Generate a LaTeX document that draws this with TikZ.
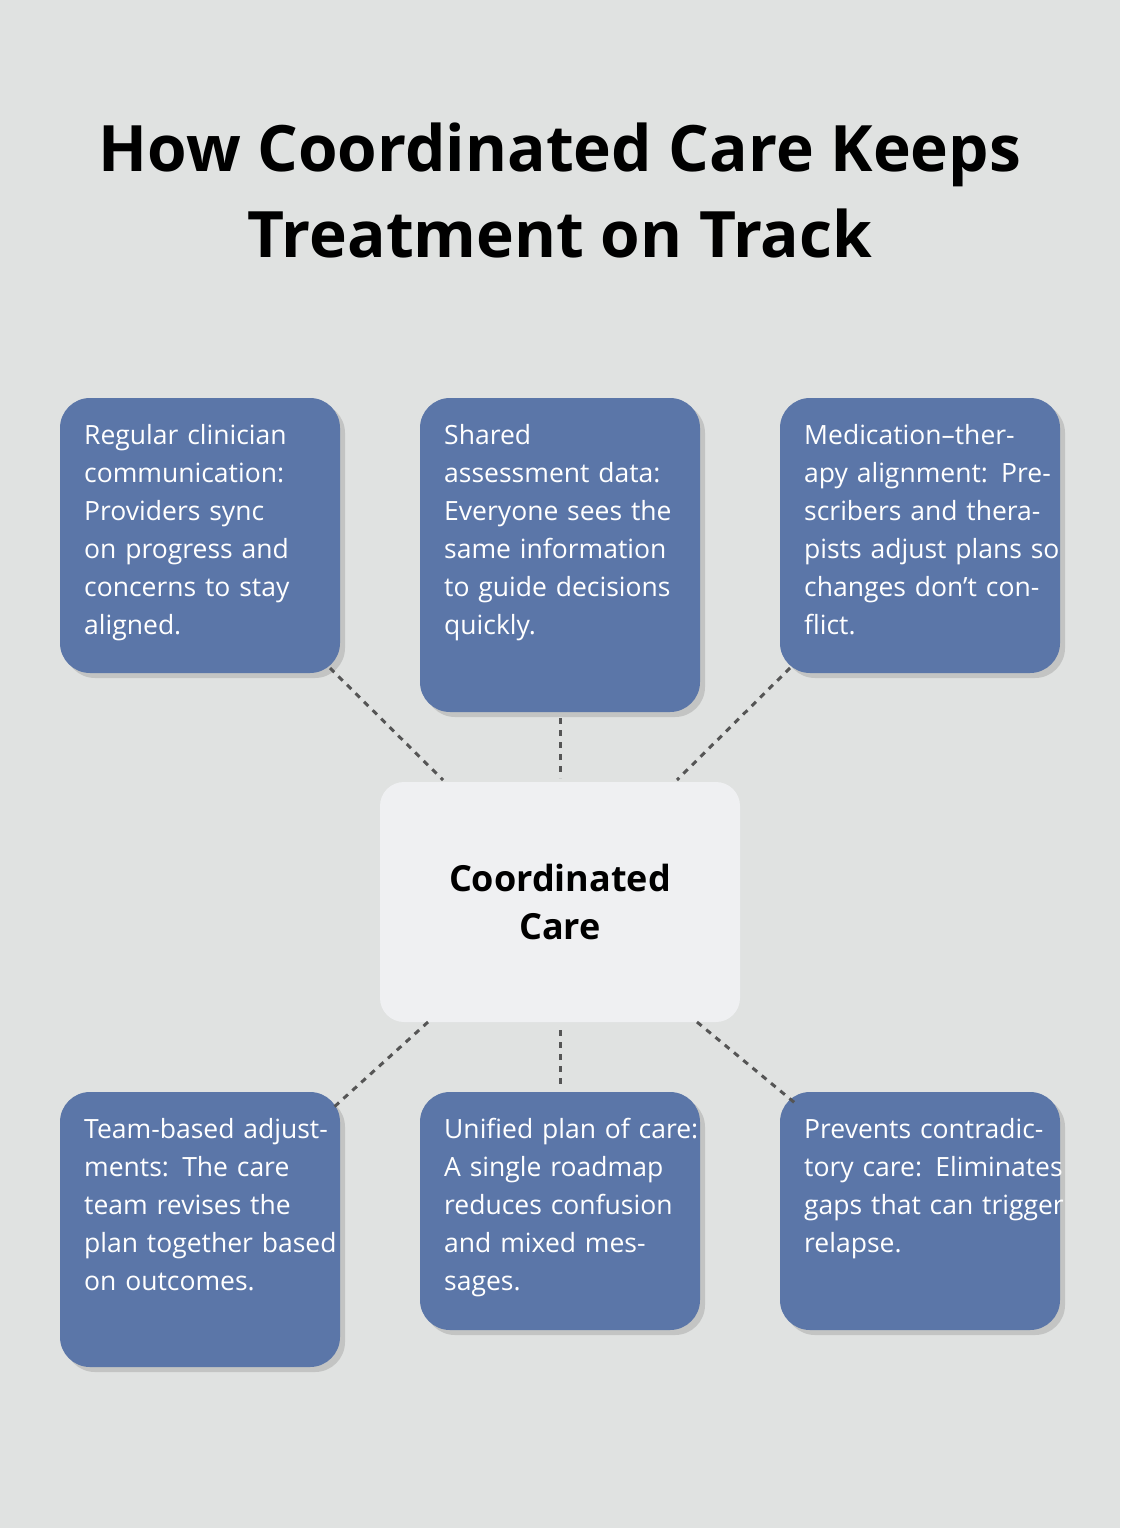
\documentclass[tikz,border=0pt]{standalone}
\usepackage{fontspec}
\setmainfont{Open Sans}
\usetikzlibrary{shadows}
\definecolor{bg}{HTML}{E0E2E1}
\definecolor{boxc}{HTML}{5B76A8}
\definecolor{cbox}{HTML}{EFF0F2}
\definecolor{dash}{HTML}{555555}
\begin{document}
\begin{tikzpicture}[x=1pt,y=-1pt,
 box/.style={fill=boxc,rounded corners=30pt,drop shadow={opacity=0.3,shadow xshift=5pt,shadow yshift=-5pt}},
 txt/.style={anchor=north west,text width=260pt,align=left,inner sep=0pt,text=white,font=\fontsize{26.5}{38}\selectfont},
 con/.style={draw=dash,line width=3pt,dash pattern=on 6pt off 6pt}]
\fill[bg] (0,0) rectangle (1120,1528);
\useasboundingbox (0,0) rectangle (1120,1528);
\node[font=\bfseries\fontsize{64}{86}\selectfont,align=center] (title) at (560,190) {How Coordinated Care Keeps\\Treatment on Track};
% boxes
\path[box] (60,398) rectangle (340,673);
\path[box] (420,398) rectangle (700,712);
\path[box] (780,398) rectangle (1060,673);
\path[box] (60,1092) rectangle (340,1367);
\path[box] (420,1092) rectangle (700,1330);
\path[box] (780,1092) rectangle (1060,1330);
\path[fill=cbox,rounded corners=24pt] (380,782) rectangle (740,1022);
\node[font=\bfseries\fontsize{36}{48}\selectfont,align=center] (c) at (560,902) {Coordinated\\Care};
\node[txt] (t1) at (84,424) {Regular clinician communication: Providers sync on progress and concerns to stay aligned.};
\node[txt] (t2) at (444,424) {Shared\\assessment data: Everyone sees the same information to guide decisions quickly.};
\node[txt] (t3) at (804,424) {Medication–ther-\\apy alignment: Prescribers and therapists adjust plans so changes don’t conflict.};
\node[txt] (b1) at (84,1118) {Team-based adjustments: The care team revises the plan together based on outcomes.};
\node[txt] (b2) at (444,1118) {Unified plan of care: A single roadmap reduces confusion and mixed messages.};
\node[txt] (b3) at (804,1118) {Prevents contradictory care: Eliminates gaps that can trigger relapse.};
% connector endpoints
\coordinate (a1) at (330,668); \coordinate (a2) at (443,780);
\coordinate (m1) at (560,718); \coordinate (m2) at (560,778);
\coordinate (r1) at (790,668); \coordinate (r2) at (677,780);
\coordinate (d1) at (428,1022); \coordinate (d2) at (333,1108);
\coordinate (e1) at (560,1030); \coordinate (e2) at (560,1088);
\coordinate (f1) at (697,1022); \coordinate (f2) at (795,1103);
\draw[con] (a1) -- (a2);
\draw[con] (m1) -- (m2);
\draw[con] (r1) -- (r2);
\draw[con] (d1) -- (d2);
\draw[con] (e1) -- (e2);
\draw[con] (f1) -- (f2);
\end{tikzpicture}
\end{document}
